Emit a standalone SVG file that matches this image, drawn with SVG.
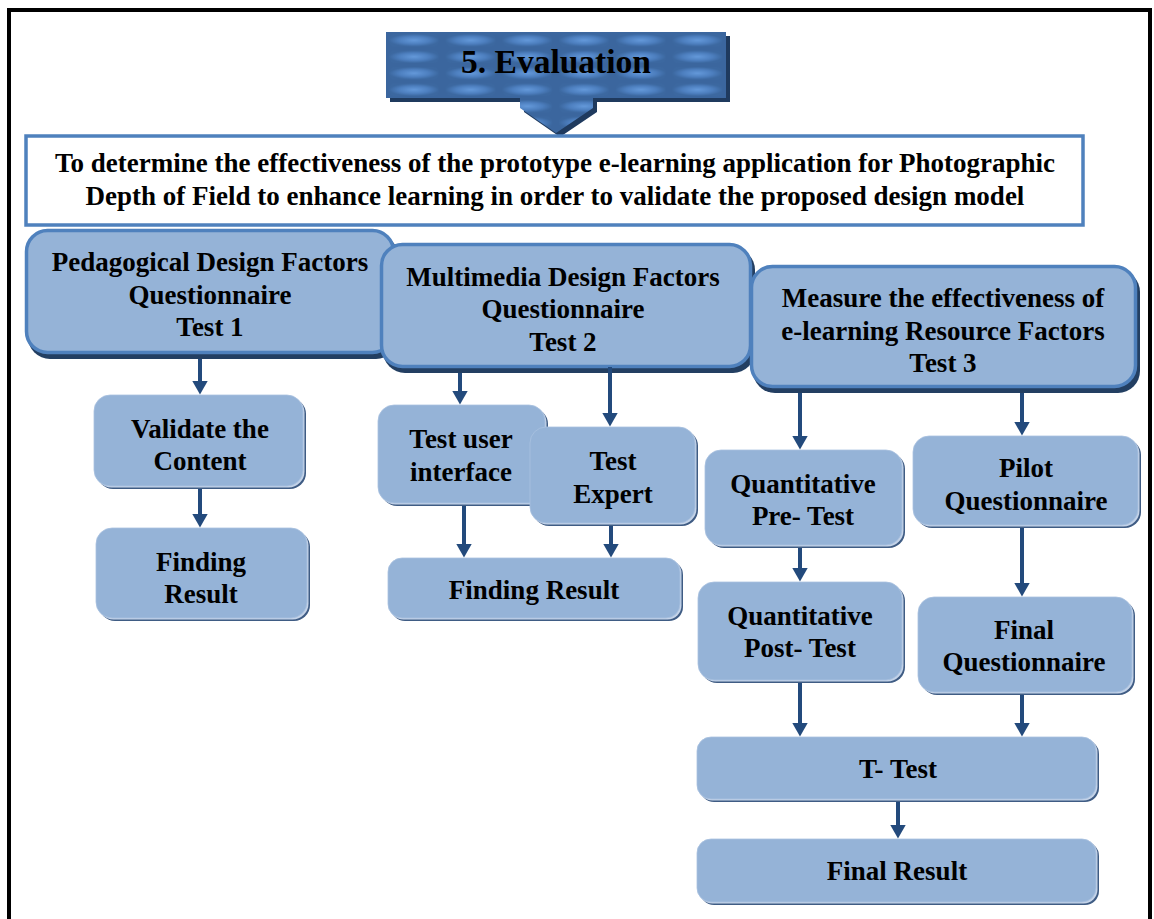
<svg xmlns="http://www.w3.org/2000/svg" width="1154" height="919" viewBox="0 0 1154 919">
<defs>
<style>
.t{font-family:"Liberation Serif","Times New Roman",serif;font-weight:bold;fill:#000;text-anchor:middle}
.n{font-size:27px}
.hi{fill:#95b3d7;stroke:#4f81bd;stroke-width:3.5}
.hsh{fill:#233f62}
.lo{fill:#95b3d7;stroke:#a9c1df;stroke-width:0.8}
.lsh{fill:#3f5c84}
.llt{fill:#c4d3e8}
.con line{stroke:#234a7c;stroke-width:4;marker-end:url(#ah)}
</style>
<radialGradient id="pill" cx="0.5" cy="0.5" r="0.5">
<stop offset="0" stop-color="#6499da"/>
<stop offset="0.6" stop-color="#4d7fbf"/>
<stop offset="1" stop-color="#3c68a0"/>
</radialGradient>
<pattern id="tex" x="386" y="32" width="56.7" height="16.5" patternUnits="userSpaceOnUse">
<rect width="56.7" height="16.5" fill="#3b669e"/>
<rect x="3" y="2" width="50" height="12.5" rx="6" fill="url(#pill)"/>
</pattern>
<marker id="ah" viewBox="0 0 14 16" refX="0.5" refY="8" markerWidth="14" markerHeight="16" markerUnits="userSpaceOnUse" orient="auto">
<path d="M0,0 L14,8 L0,16 Z" fill="#234a7c"/>
</marker>
</defs>
<rect width="1154" height="919" fill="#fff"/>
<rect x="9" y="10" width="1141" height="940" fill="none" stroke="#000" stroke-width="4"/>

<g id="title">
<path d="M390,36 H730 V102 H597 V112 L560,137 L524,112 V102 H390 Z" fill="#1f3a5e"/>
<path d="M386,32 H726 V98 H593 V108 L556,133 L520,108 V98 H386 Z" fill="url(#tex)"/>
<text class="t" x="556" y="73" font-size="33.5">5. Evaluation</text>
</g>

<g id="goal">
<rect x="26" y="136" width="1057" height="89" fill="#fff" stroke="#4f81bd" stroke-width="3.5"/>
<text class="t" x="555" y="172" font-size="27">To determine the effectiveness of the prototype e-learning application for Photographic</text>
<text class="t" x="555" y="205" font-size="27">Depth of Field to enhance learning in order to validate the proposed design model</text>
</g>

<g id="n1">
<rect class="hsh" x="28" y="234" width="370" height="125" rx="22"/>
<rect class="hi" x="26.5" y="230.5" width="367" height="122" rx="21"/>
<text class="t n" x="210" y="271">Pedagogical Design Factors</text>
<text class="t n" x="210" y="304">Questionnaire</text>
<text class="t n" x="210" y="336">Test 1</text>
</g>

<g id="n2">
<rect class="hsh" x="383" y="248" width="372" height="125" rx="22"/>
<rect class="hi" x="381.5" y="244.5" width="369" height="122" rx="21"/>
<text class="t n" x="563" y="286">Multimedia Design Factors</text>
<text class="t n" x="563" y="318">Questionnaire</text>
<text class="t n" x="563" y="351">Test 2</text>
</g>

<g id="n3">
<rect class="hsh" x="753" y="270" width="387" height="123" rx="22"/>
<rect class="hi" x="751.5" y="266.5" width="384" height="120" rx="21"/>
<text class="t n" x="943" y="307">Measure the effectiveness of</text>
<text class="t n" x="943" y="340">e-learning Resource Factors</text>
<text class="t n" x="943" y="372">Test 3</text>
</g>

<g id="validate">
<rect class="lsh" x="97" y="398" width="209" height="91" rx="16"/>
<rect class="llt" x="95.5" y="396.5" width="209" height="91" rx="16"/>
<rect class="lo" x="94" y="395" width="209" height="91" rx="16"/>
<text class="t n" x="200" y="438">Validate the</text>
<text class="t n" x="200" y="470">Content</text>
</g>

<g id="finding1">
<rect class="lsh" x="99" y="531" width="211" height="90" rx="16"/>
<rect class="llt" x="97.5" y="529.5" width="211" height="90" rx="16"/>
<rect class="lo" x="96" y="528" width="211" height="90" rx="16"/>
<text class="t n" x="201" y="571">Finding</text>
<text class="t n" x="201" y="603">Result</text>
</g>

<g id="testui">
<rect class="lsh" x="381" y="408" width="167" height="98" rx="16"/>
<rect class="llt" x="379.5" y="406.5" width="167" height="98" rx="16"/>
<rect class="lo" x="378" y="405" width="167" height="98" rx="16"/>
<text class="t n" x="461" y="448">Test user</text>
<text class="t n" x="461" y="481">interface</text>
</g>

<g id="testexpert">
<rect class="lsh" x="533" y="430" width="165" height="96" rx="16"/>
<rect class="llt" x="531.5" y="428.5" width="165" height="96" rx="16"/>
<rect class="lo" x="530" y="427" width="165" height="96" rx="16"/>
<text class="t n" x="613" y="470">Test</text>
<text class="t n" x="613" y="503">Expert</text>
</g>

<g id="finding2">
<rect class="lsh" x="391" y="561" width="292" height="60" rx="14"/>
<rect class="llt" x="389.5" y="559.5" width="292" height="60" rx="14"/>
<rect class="lo" x="388" y="558" width="292" height="60" rx="14"/>
<text class="t n" x="534" y="599">Finding Result</text>
</g>

<g id="pretest">
<rect class="lsh" x="708" y="453" width="197" height="95" rx="16"/>
<rect class="llt" x="706.5" y="451.5" width="197" height="95" rx="16"/>
<rect class="lo" x="705" y="450" width="197" height="95" rx="16"/>
<text class="t n" x="803" y="493">Quantitative</text>
<text class="t n" x="803" y="525">Pre- Test</text>
</g>

<g id="pilot">
<rect class="lsh" x="916" y="439" width="225" height="89" rx="16"/>
<rect class="llt" x="914.5" y="437.5" width="225" height="89" rx="16"/>
<rect class="lo" x="913" y="436" width="225" height="89" rx="16"/>
<text class="t n" x="1026" y="477">Pilot</text>
<text class="t n" x="1026" y="510">Questionnaire</text>
</g>

<g id="posttest">
<rect class="lsh" x="701" y="585" width="204" height="98" rx="16"/>
<rect class="llt" x="699.5" y="583.5" width="204" height="98" rx="16"/>
<rect class="lo" x="698" y="582" width="204" height="98" rx="16"/>
<text class="t n" x="800" y="625">Quantitative</text>
<text class="t n" x="800" y="657">Post- Test</text>
</g>

<g id="finalq">
<rect class="lsh" x="921" y="600" width="214" height="95" rx="16"/>
<rect class="llt" x="919.5" y="598.5" width="214" height="95" rx="16"/>
<rect class="lo" x="918" y="597" width="214" height="95" rx="16"/>
<text class="t n" x="1024" y="639">Final</text>
<text class="t n" x="1024" y="671">Questionnaire</text>
</g>

<g id="ttest">
<rect class="lsh" x="700" y="740" width="399" height="62" rx="14"/>
<rect class="llt" x="698.5" y="738.5" width="399" height="62" rx="14"/>
<rect class="lo" x="697" y="737" width="399" height="62" rx="14"/>
<text class="t n" x="898" y="778">T- Test</text>
</g>

<g id="finalresult">
<rect class="lsh" x="700" y="842" width="399" height="63" rx="14"/>
<rect class="llt" x="698.5" y="840.5" width="399" height="63" rx="14"/>
<rect class="lo" x="697" y="839" width="399" height="63" rx="14"/>
<text class="t n" x="897" y="880">Final Result</text>
</g>

<g id="connectors" class="con">
<line x1="200" y1="359" x2="200" y2="381"/>
<line x1="200" y1="489" x2="200" y2="514"/>
<line x1="460" y1="373" x2="460" y2="391"/>
<line x1="610" y1="367" x2="610" y2="413"/>
<line x1="464" y1="506" x2="464" y2="544"/>
<line x1="611" y1="526" x2="611" y2="544"/>
<line x1="800" y1="393" x2="800" y2="436"/>
<line x1="1022" y1="393" x2="1022" y2="422"/>
<line x1="800" y1="548" x2="800" y2="568"/>
<line x1="1022" y1="528" x2="1022" y2="583"/>
<line x1="800" y1="683" x2="800" y2="723"/>
<line x1="1022" y1="695" x2="1022" y2="723"/>
<line x1="898" y1="802" x2="898" y2="825"/>
</g>
</svg>
